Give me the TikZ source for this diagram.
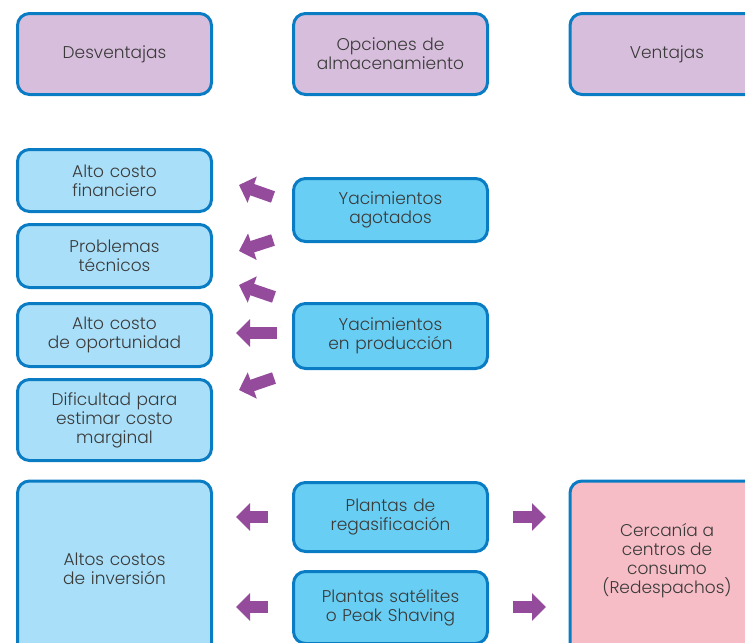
\documentclass[tikz,border=0pt]{standalone}
\usepackage{fontspec}
\setmainfont{Poppins}[UprightFont=* Light]
\usetikzlibrary{arrows.meta}
\definecolor{edgeblue}{HTML}{0A7CC4}
\definecolor{headfill}{HTML}{D8BEDD}
\definecolor{palefill}{HTML}{A9DFF9}
\definecolor{midfill}{HTML}{68CEF4}
\definecolor{pinkfill}{HTML}{F7BDC6}
\definecolor{arrowpurple}{HTML}{944B9B}
\definecolor{textgray}{HTML}{3A3A39}
\tikzset{
  boxfont/.style={font=\fontsize{17}{19}\selectfont},
  box/.style={draw=edgeblue, line width=3pt, rounded corners=12pt,
    minimum width=194pt, text width=186pt, align=center, inner sep=0pt,
    text=textgray, boxfont},
  headbox/.style={box, fill=headfill},
  palebox/.style={box, fill=palefill},
  midbox/.style={box, fill=midfill},
  pinkbox/.style={box, fill=pinkfill},
  blockarrow/.style={draw=arrowpurple, line width=12pt,
    -{Triangle[width=27pt,length=14pt]}, arrowpurple}
}
\begin{document}
\begin{tikzpicture}[x=1pt, y=-1pt]
\useasboundingbox (0,0) rectangle (745,643);

% header row
\node[headbox, minimum height=81pt] (desv) at (114.5,54) {Desventajas};
\node[headbox, minimum height=81pt] (opc) at (390.5,54) {Opciones de\\almacenamiento};
\node[headbox, minimum height=81pt] (vent) at (667,54) {Ventajas};

% disadvantages column
\node[palebox, minimum height=62pt] (acf) at (114.5,180.5) {Alto costo\\financiero};
\node[palebox, minimum height=63pt] (ptec) at (114.5,256) {Problemas\\técnicos};
\node[palebox, minimum height=63pt] (aco) at (114.5,335) {Alto costo\\de oportunidad};
\node[palebox, minimum height=81pt] (dif) at (114.5,420) {Dificultad para\\estimar costo\\marginal};
\node[palebox, minimum height=176pt] (aci) at (114.5,569) {Altos costos\\de inversión};

% storage options column
\node[midbox, minimum height=63pt] (yag) at (390.5,210) {Yacimientos\\agotados};
\node[midbox, minimum height=65pt] (yep) at (390.5,336) {Yacimientos\\en producción};
\node[midbox, minimum height=69pt] (prg) at (390.5,517) {Plantas de\\regasificación};
\node[midbox, minimum height=72pt] (psat) at (390.5,607.5) {Plantas satélites\\o Peak Shaving};

% advantages column
\node[pinkbox, minimum height=176pt] (cerc) at (667,569) {};
\node[text=textgray, boxfont, align=center] (cerctxt) at (667,561) {Cercanía a\\centros de\\consumo\\(Redespachos)};

% arrow end points
\coordinate (a1s) at (273,197); \coordinate (a1e) at (239,185);
\coordinate (a2s) at (273,240); \coordinate (a2e) at (239,251);
\coordinate (a3s) at (274,297); \coordinate (a3e) at (239,285);
\coordinate (a4s) at (277,333); \coordinate (a4e) at (236,333);
\coordinate (a5s) at (274,378); \coordinate (a5e) at (239,390);
\coordinate (b1s) at (268,517); \coordinate (b1e) at (236,517);
\coordinate (b2s) at (513,517); \coordinate (b2e) at (546,517);
\coordinate (b3s) at (268,607); \coordinate (b3e) at (236,607);
\coordinate (b4s) at (513,607); \coordinate (b4e) at (546,607);

\foreach \s/\e in {a1s/a1e,a2s/a2e,a3s/a3e,a4s/a4e,a5s/a5e,b1s/b1e,b2s/b2e,b3s/b3e,b4s/b4e}
  \draw[blockarrow] (\s) -- (\e);
\end{tikzpicture}
\end{document}
